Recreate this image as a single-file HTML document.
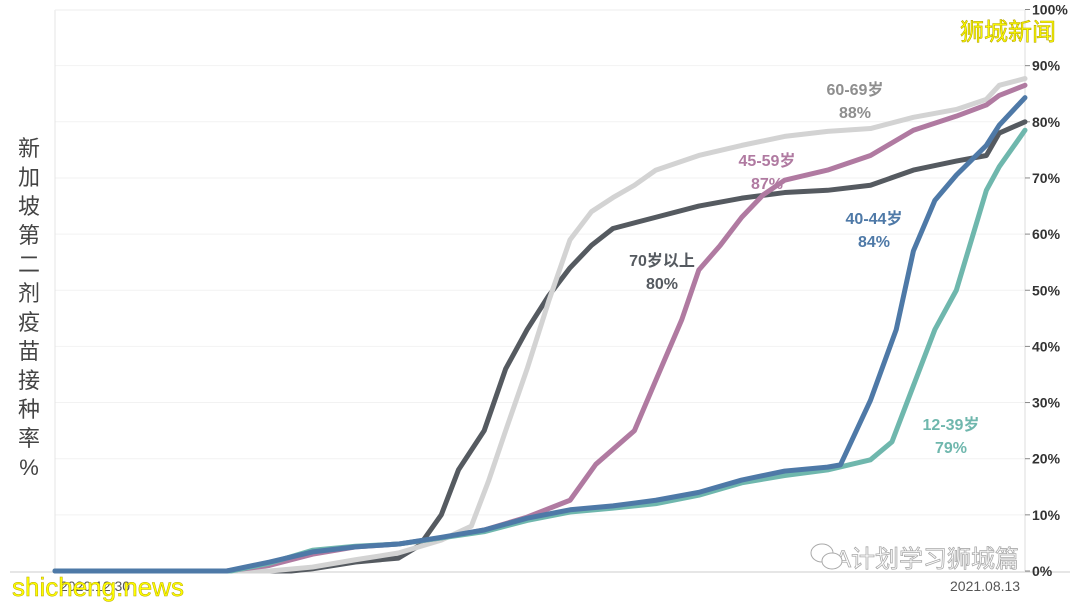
<!DOCTYPE html>
<html><head><meta charset="utf-8"><style>
body{margin:0;background:#fff;width:1080px;height:607px;overflow:hidden;font-family:"Liberation Sans","Noto Sans CJK SC",sans-serif}
</style></head><body>
<svg id="c" width="1080" height="607" style="position:absolute;left:0;top:0">
<rect x="0" y="0" width="1080" height="607" fill="#fff"/>
<g id="grid"></g>
<line x1="55" y1="10" x2="55" y2="571" stroke="#e4e4e4"/>
<line x1="55" y1="10" x2="1025" y2="10" stroke="#eee"/>
<line x1="1025" y1="10" x2="1025" y2="571" stroke="#ddd"/>
<line x1="10" y1="572" x2="1070" y2="572" stroke="#ccc"/>
<g id="ticks"></g>
<g id="lines"></g>
<text x="60" y="591" font-size="14" fill="#555">2020.12.30</text>
<text x="950" y="591" font-size="14" fill="#555">2021.08.13</text>
<g font-size="22" fill="#444" text-anchor="middle" id="ytitle"></g>
<g font-weight="bold" font-size="16" text-anchor="middle">
<text x="855" y="95" fill="#8e8e8e">60-69岁</text><text x="855" y="118" fill="#8e8e8e">88%</text>
<text x="767" y="166" fill="#b07aa1">45-59岁</text><text x="767" y="189" fill="#b07aa1">87%</text>
<text x="874" y="224" fill="#4e79a7">40-44岁</text><text x="874" y="247" fill="#4e79a7">84%</text>
<text x="662" y="266" fill="#555a60">70岁以上</text><text x="662" y="289" fill="#555a60">80%</text>
<text x="951" y="430" fill="#6fb7ad">12-39岁</text><text x="951" y="453" fill="#6fb7ad">79%</text>
</g>
<text x="960" y="40" font-size="24" fill="#ffff00" stroke="#b8a800" stroke-width="0.6">狮城新闻</text>
<text x="12" y="596" font-size="26" fill="#ffff00" stroke="#b8a800" stroke-width="0.5">shicheng.news</text>
<text x="835" y="567" font-size="24" fill="#fff" stroke="#aaa" stroke-width="0.8">A计划学习狮城篇</text>
<g fill="#fff" stroke="#aaa"><ellipse cx="822" cy="553" rx="11" ry="9"/><ellipse cx="832" cy="561" rx="10" ry="8"/></g>
</svg>
<script>
const ticks=[0,10,20,30,40,50,60,70,80,90,100];
const tickLabels=["0%","10%","20%","30%","40%","50%","60%","70%","80%","90%","100%"];
const days70=[0,55,60,70,80,85,90,94,100,105,110,115,120,125,130,140,150,160,170,180,190,200,210,217,220,226];
const vals70=[0,0,0.4,1.6,2.3,4.6,10,18,25,36,43,49,54,58,61,63,65,66.4,67.4,67.8,68.7,71.4,73,74,78,80];
const days6069=[0,50,60,70,80,90,97,101,105,110,115,120,125,130,135,140,150,160,170,180,190,200,210,217,220,226];
const vals6069=[0,0,0.7,2,3.2,5.5,8,16,25,36,48,59,64,66.5,68.7,71.4,74,75.8,77.4,78.3,78.8,80.8,82.2,84,86.5,87.7];
const days4559=[0,40,50,60,70,80,90,100,110,120,126,135,140,146,150,155,160,165,170,180,190,200,210,217,220,226];
const vals4559=[0,0,1,3,4.3,4.8,5.9,7.3,9.6,12.6,19,25,34,44.7,53.6,58,63,67,69.6,71.4,74,78.5,81,83,84.7,86.5];
const days4044=[0,40,50,60,70,80,90,100,110,120,130,140,150,160,170,180,183,190,196,200,205,210,217,220,226];
const vals4044=[0,0,1.6,3.4,4.3,4.8,6,7.3,9.4,10.9,11.6,12.6,14,16.2,17.8,18.5,18.9,30.4,43,57,66,70.5,75.8,79.4,84.3];
const days1239=[0,41,50,60,70,80,90,100,110,120,130,140,150,160,170,180,190,195,200,205,210,217,220,226];
const vals1239=[0,0,1.4,3.7,4.4,4.8,5.9,7,9,10.5,11.2,12,13.5,15.7,17,18,19.8,23,33,43,50,67.8,72,78.5];
const series=[
 {name:"line-70plus",d:days70,v:vals70,c:"#555a60"},
 {name:"line-60-69",d:days6069,v:vals6069,c:"#d3d3d3"},
 {name:"line-45-59",d:days4559,v:vals4559,c:"#b07aa1"},
 {name:"line-12-39",d:days1239,v:vals1239,c:"#6fb7ad"},
 {name:"line-40-44",d:days4044,v:vals4044,c:"#4e79a7"}];
const totalDays=226;
const NS="http://www.w3.org/2000/svg";
const xS=d=>55+d/totalDays*970;
const yS=v=>571-v*5.615;
const grid=document.getElementById('grid'),tk=document.getElementById('ticks'),ln=document.getElementById('lines');
ticks.forEach((t,i)=>{
 if(t>0&&t<100){const l=document.createElementNS(NS,'line');
 
 
 l.setAttribute('x1',55);l.setAttribute('x2',1025);l.setAttribute('y1',yS(t));l.setAttribute('y2',yS(t));l.setAttribute('stroke','#f2f2f2');grid.appendChild(l);}
 const tx=document.createElementNS(NS,'text');
 
 
 tx.setAttribute('x',1032);tx.setAttribute('y',yS(t)+5);tx.setAttribute('font-size','14');tx.setAttribute('font-weight','bold');tx.setAttribute('fill','#333');
 tx.textContent=tickLabels[i];tk.appendChild(tx);
 const m=document.createElementNS(NS,'line');
 
 
 m.setAttribute('x1',1025);m.setAttribute('x2',1030);m.setAttribute('y1',yS(t));m.setAttribute('y2',yS(t));m.setAttribute('stroke','#888');tk.appendChild(m);
});
series.forEach(s=>{
 const p=document.createElementNS(NS,'polyline');
 
 
 p.setAttribute('points',s.d.map((d,i)=>xS(d)+','+yS(s.v[i])).join(' '));
 p.setAttribute('fill','none');p.setAttribute('stroke',s.c);p.setAttribute('stroke-width','5');p.setAttribute('stroke-linejoin','round');p.setAttribute('stroke-linecap','round');
 ln.appendChild(p);
});
const yt=document.getElementById('ytitle');
"新加坡第二剂疫苗接种率%".split('').forEach((ch,i)=>{
 const t=document.createElementNS(NS,'text');
 
 
 t.setAttribute('x',29);t.setAttribute('y',156+i*29);t.textContent=ch;yt.appendChild(t);
});
</script>
</body></html>
